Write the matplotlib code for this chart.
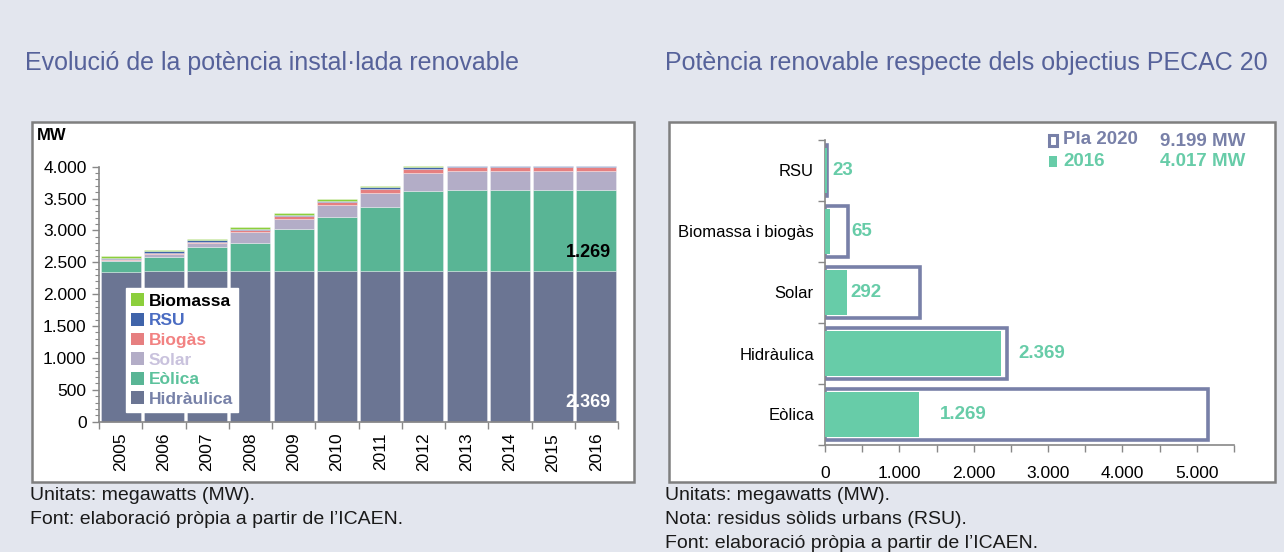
import matplotlib
matplotlib.use("Agg")
import matplotlib.pyplot as plt
from matplotlib.patches import Rectangle, Patch
from matplotlib.ticker import MultipleLocator, FuncFormatter
import numpy as np

# ---------------- data ----------------
years = ["2005", "2006", "2007", "2008", "2009", "2010",
         "2011", "2012", "2013", "2014", "2015", "2016"]
hidraulica = [2344, 2369, 2369, 2369, 2369, 2369, 2369, 2369, 2369, 2369, 2369, 2369]
eolica     = [170, 220, 377, 440, 660, 848, 1005, 1256, 1269, 1269, 1269, 1269]
solar      = [15, 40, 50, 165, 156, 185, 220, 282, 290, 290, 291, 292]
biogas     = [25, 20, 30, 30, 40, 40, 60, 60, 60, 60, 60, 60]
rsu        = [20, 22, 22, 22, 22, 22, 22, 25, 23, 23, 23, 23]
biomassa   = [20, 25, 25, 25, 25, 25, 25, 20, 5, 5, 5, 5]

label_eolica_2016 = "1.269"
label_hidraulica_2016 = "2.369"

categories = ["Eòlica", "Hidràulica", "Solar", "Biomassa i biogàs", "RSU"]
pla_2020 = [5153, 2443, 1276, 304, 23]
valors_2016 = [1269, 2369, 292, 65, 23]
valors_2016_labels = ["1.269", "2.369", "292", "65", "23"]
label_x = [1546, 2594, 336, 350, 94]

total_pla = "9.199 MW"
total_2016 = "4.017 MW"

# ---------------- style ----------------
BG = "#e3e6ee"
C_HID = "#6b7593"
C_EOL = "#59b595"
C_SOL = "#b3adc7"
C_BGS = "#e67f80"
C_RSU = "#4064aa"
C_BIO = "#8ccf3c"
C_GREEN = "#67cca8"
C_PLAN = "#7880a8"
TITLE_C = "#56629a"

plt.rcParams['font.family'] = ['Liberation Sans', 'DejaVu Sans']

W, H = 1284, 552
fig = plt.figure(figsize=(W / 100, H / 100), dpi=100, facecolor=BG)

def fx(px):
    return px / W

def fy(py):
    return 1 - py / H

# frames
for x0, x1 in [(32, 634), (669, 1275)]:
    fig.patches.append(Rectangle((fx(x0), fy(482)), fx(x1 - x0), (482 - 122) / H,
                                 transform=fig.transFigure, facecolor="white",
                                 edgecolor="#7f7f7f", linewidth=1.8, zorder=-5))

# titles
fig.text(fx(25), fy(63), "Evolució de la potència instal·lada renovable",
         fontsize=18, color=TITLE_C, va="center", ha="left")
fig.text(fx(665), fy(63), "Potència renovable respecte dels objectius PECAC 20",
         fontsize=18, color=TITLE_C, va="center", ha="left")

# footnotes
foot_kw = dict(fontsize=14, color="#1a1a1a", va="center", ha="left")
fig.text(fx(30), fy(496), "Unitats: megawatts (MW).", **foot_kw)
fig.text(fx(30), fy(520), "Font: elaboració pròpia a partir de l’ICAEN.", **foot_kw)
fig.text(fx(665), fy(496), "Unitats: megawatts (MW).", **foot_kw)
fig.text(fx(665), fy(520), "Nota: residus sòlids urbans (RSU).", **foot_kw)
fig.text(fx(665), fy(544), "Font: elaboració pròpia a partir de l’ICAEN.", **foot_kw)

# ---------------- left chart ----------------
axL = fig.add_axes([fx(99), fy(421.7), fx(618 - 99), (421.7 - 166.7) / H])
axL.set_facecolor("none")
x = np.arange(len(years))
series = [("Hidràulica", hidraulica, C_HID), ("Eòlica", eolica, C_EOL),
          ("Solar", solar, C_SOL), ("Biogàs", biogas, C_BGS),
          ("RSU", rsu, C_RSU), ("Biomassa", biomassa, C_BIO)]
bottom = np.zeros(len(years))
for name, vals, col in series:
    v = np.array(vals, dtype=float)
    axL.bar(x, v, bottom=bottom, width=0.93, color=col,
            edgecolor=(1, 1, 1, 0.45), linewidth=0.5, clip_on=False, zorder=2)
    bottom += v

axL.set_xlim(-0.5, len(years) - 0.5)
axL.set_ylim(0, 4000)
axL.yaxis.set_major_locator(MultipleLocator(500))
axL.yaxis.set_minor_locator(MultipleLocator(100))
axL.yaxis.set_major_formatter(FuncFormatter(lambda v, p: f"{int(v):,}".replace(",", ".")))
axL.tick_params(axis="y", which="major", length=5, width=1, color="#888888",
                labelsize=12.5, pad=4)
axL.tick_params(axis="y", which="minor", length=3, width=0.8, color="#888888")
axL.set_xticks(x)
axL.set_xticklabels(years, rotation=90, fontsize=12.5)
axL.set_xticks(np.arange(-0.5, len(years)), minor=True)
axL.tick_params(axis="x", which="major", length=0, pad=8)
axL.tick_params(axis="x", which="minor", length=5, width=1, color="#888888")
for s in ["top", "right"]:
    axL.spines[s].set_visible(False)
for s in ["left", "bottom"]:
    axL.spines[s].set_color("#888888")
    axL.spines[s].set_linewidth(1.2)

fig.text(fx(37), fy(135), "MW", fontsize=12, fontweight="bold", va="center", ha="left")

last = len(years) - 1
axL.text(last + 0.33, hidraulica[last] + 0.23 * eolica[last], label_eolica_2016,
         ha="right", va="center", fontsize=13, fontweight="bold", color="black", zorder=5)
axL.text(last + 0.33, 0.13 * hidraulica[last], label_hidraulica_2016,
         ha="right", va="center", fontsize=13, fontweight="bold", color="white", zorder=5)

leg_handles = [Patch(facecolor=C_BIO, label="Biomassa"),
               Patch(facecolor=C_RSU, label="RSU"),
               Patch(facecolor=C_BGS, label="Biogàs"),
               Patch(facecolor=C_SOL, label="Solar"),
               Patch(facecolor=C_EOL, label="Eòlica"),
               Patch(facecolor=C_HID, label="Hidràulica")]
leg_colors = ["black", "#4a6cc2", "#f28282", "#c9c2dd", "#5cc29c", "#7781a8"]
leg = axL.legend(handles=leg_handles, loc="lower left", bbox_to_anchor=(0.052, 0.038),
                 frameon=True, fancybox=False, framealpha=1, edgecolor="white",
                 prop=dict(size=12.5, weight="bold"), labelcolor=leg_colors,
                 handlelength=0.75, handleheight=0.75, handletextpad=0.25,
                 labelspacing=0.24, borderpad=0.3, borderaxespad=0)
leg.set_zorder(6)

# ---------------- right chart ----------------
axR = fig.add_axes([fx(825), fy(445), fx(1234 - 825), (445 - 140) / H])
axR.set_facecolor("none")
y = np.arange(len(categories))
axR.barh(y, pla_2020, height=0.83, facecolor="white", edgecolor=C_PLAN,
         linewidth=2.6, zorder=2)
axR.barh(y, valors_2016, height=0.74, color=C_GREEN, linewidth=0, zorder=3)
for yi, lx, lab in zip(y, label_x, valors_2016_labels):
    axR.text(lx, yi, lab, ha="left", va="center", fontsize=13.5,
             fontweight="bold", color=C_GREEN, zorder=5)

axR.set_xlim(0, 5500)
axR.set_ylim(-0.5, len(categories) - 0.5)
axR.xaxis.set_major_locator(MultipleLocator(1000))
axR.xaxis.set_minor_locator(MultipleLocator(500))
axR.xaxis.set_major_formatter(FuncFormatter(lambda v, p: f"{int(v):,}".replace(",", ".")))
axR.tick_params(axis="x", which="both", length=5, width=1, color="#888888",
                labelsize=12.5, pad=10)
axR.set_yticks(y)
axR.set_yticklabels(categories, fontsize=12)
axR.set_yticks(np.arange(-0.5, len(categories)), minor=True)
axR.tick_params(axis="y", which="major", length=0, pad=8)
axR.tick_params(axis="y", which="minor", length=5, width=1, color="#888888")
for s in ["top", "right"]:
    axR.spines[s].set_visible(False)
for s in ["left", "bottom"]:
    axR.spines[s].set_color("#888888")
    axR.spines[s].set_linewidth(1.2)

# right legend
fig.patches.append(Rectangle((fx(1049), fy(146)), fx(8), 11 / H, transform=fig.transFigure,
                             facecolor="white", edgecolor=C_PLAN, linewidth=2.2, zorder=5))
fig.patches.append(Rectangle((fx(1049), fy(167)), fx(8), 11 / H, transform=fig.transFigure,
                             facecolor=C_GREEN, edgecolor="none", zorder=5))
fig.text(fx(1063), fy(140), "Pla 2020", fontsize=13.5, fontweight="bold",
         color=C_PLAN, va="center", ha="left")
fig.text(fx(1063), fy(162), "2016", fontsize=13.5, fontweight="bold",
         color=C_GREEN, va="center", ha="left")
fig.text(fx(1160), fy(141), total_pla, fontsize=13.5, fontweight="bold",
         color=C_PLAN, va="center", ha="left")
fig.text(fx(1160), fy(161), total_2016, fontsize=13.5, fontweight="bold",
         color=C_GREEN, va="center", ha="left")

fig.savefig("out.png", dpi=100, facecolor=BG)
